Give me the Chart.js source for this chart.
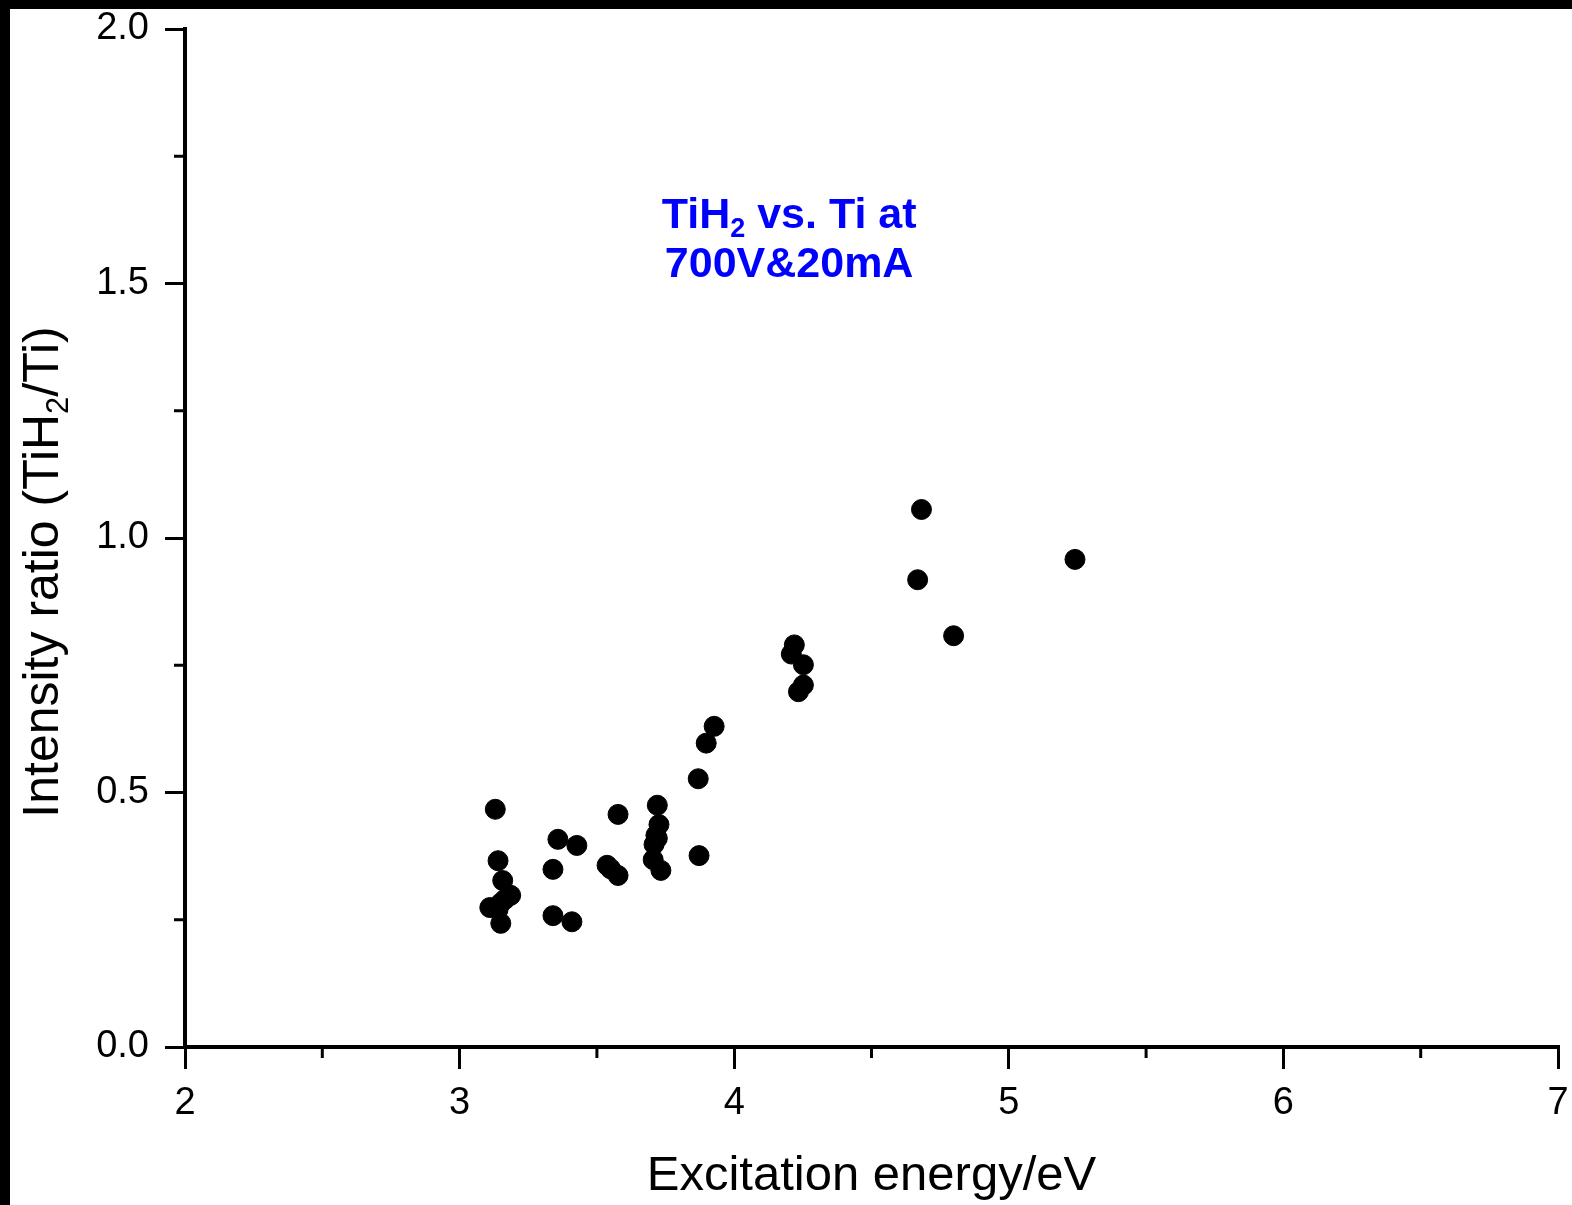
<!DOCTYPE html>
<html>
<head>
<meta charset="utf-8">
<script src="https://cdn.jsdelivr.net/npm/chart.js@4.4.0/dist/chart.umd.min.js"></script>
<style>
html, body { margin: 0; padding: 0; background: #000; }
#wrap { position: absolute; left: 10px; top: 9px; width: 1562px; height: 1196px; background: #fff; }
</style>
</head>
<body>
<div id="wrap"><canvas id="chart" width="1562" height="1196"></canvas></div>
<script>
// excitation energy (eV) and intensity ratio TiH2/Ti
const energy = [
  3.13, 3.14, 3.157, 3.186, 3.165, 3.11, 3.14, 3.15, 3.15,
  3.358, 3.427, 3.34, 3.34, 3.409,
  3.577, 3.537, 3.577, 3.55,
  3.72, 3.726, 3.715, 3.708, 3.705, 3.733, 3.72,
  3.872, 3.869, 3.898, 3.927,
  4.219, 4.208, 4.252, 4.234, 4.252,
  4.682, 4.668, 4.799, 5.241
];
const ratio = [
  0.467, 0.366, 0.327, 0.298, 0.29, 0.274, 0.27, 0.283, 0.243,
  0.408, 0.396, 0.349, 0.258, 0.246,
  0.457, 0.357, 0.337, 0.35,
  0.475, 0.437, 0.416, 0.398, 0.368, 0.347, 0.41,
  0.376, 0.527, 0.597, 0.63,
  0.79, 0.772, 0.751, 0.698, 0.711,
  1.056, 0.918, 0.808, 0.958
];
const xMinorTicks = [2.5, 3.5, 4.5, 5.5, 6.5];
const yMinorTicks = [0.25, 0.75, 1.25, 1.75];

const FONT = '"Liberation Sans", Arial, Helvetica, sans-serif';

// minor ticks + axis titles + blue note
const extras = {
  id: 'extras',
  afterDraw(chart) {
    const ctx = chart.ctx;
    const xs = chart.scales.x, ys = chart.scales.y;
    const area = chart.chartArea;
    ctx.save();
    ctx.strokeStyle = '#000';
    ctx.lineWidth = 3;
    xMinorTicks.forEach(v => {
      const px = xs.getPixelForValue(v);
      ctx.beginPath(); ctx.moveTo(px, area.bottom); ctx.lineTo(px, area.bottom + 11); ctx.stroke();
    });
    yMinorTicks.forEach(v => {
      const py = ys.getPixelForValue(v);
      ctx.beginPath(); ctx.moveTo(area.left, py); ctx.lineTo(area.left - 11, py); ctx.stroke();
    });

    ctx.fillStyle = '#000';
    ctx.textBaseline = 'alphabetic';
    // x title
    ctx.font = '49px ' + FONT;
    ctx.textAlign = 'center';
    ctx.fillText('Excitation energy/eV', (area.left + area.right) / 2, 1181);

    // y title with subscript, rotated
    ctx.translate(48, 563);
    ctx.rotate(-Math.PI / 2);
    const big = '50px ' + FONT, small = '31px ' + FONT;
    const parts = [['Intensity ratio (TiH', big, 0], ['2', small, 10], ['/Ti)', big, 0]];
    let total = 0;
    parts.forEach(p => { ctx.font = p[1]; total += ctx.measureText(p[0]).width; });
    let cx = -total / 2;
    ctx.textAlign = 'left';
    parts.forEach(p => {
      ctx.font = p[1];
      ctx.fillText(p[0], cx, p[2]);
      cx += ctx.measureText(p[0]).width;
    });
    ctx.restore();

    // annotation
    ctx.save();
    ctx.fillStyle = '#0000ff';
    const nx = xs.getPixelForValue(4.2);
    const b1 = ys.getPixelForValue(1.61), b2 = ys.getPixelForValue(1.513);
    const nb = 'bold 43px ' + FONT, ns = 'bold 27px ' + FONT;
    const line1 = [['TiH', nb, 0], ['2', ns, 9], [' vs. Ti at', nb, 0]];
    let w = 0;
    line1.forEach(p => { ctx.font = p[1]; w += ctx.measureText(p[0]).width; });
    let lx = nx - w / 2;
    ctx.textAlign = 'left';
    line1.forEach(p => {
      ctx.font = p[1];
      ctx.fillText(p[0], lx, b1 + p[2]);
      lx += ctx.measureText(p[0]).width;
    });
    ctx.font = nb;
    ctx.textAlign = 'center';
    ctx.fillText('700V&20mA', nx, b2);
    ctx.restore();
  }
};

const points = energy.map((e, i) => ({ x: e, y: ratio[i] }));

new Chart(document.getElementById('chart'), {
  type: 'scatter',
  data: {
    datasets: [{
      data: points,
      backgroundColor: '#000',
      borderColor: '#000',
      pointRadius: 10,
      pointHoverRadius: 10
    }]
  },
  options: {
    responsive: false,
    animation: false,
    layout: { padding: { top: 20, right: 14, left: 0, bottom: 0 } },
    plugins: { legend: { display: false }, tooltip: { enabled: false } },
    scales: {
      x: {
        type: 'linear', min: 2, max: 7,
        ticks: { stepSize: 1, color: '#000', font: { size: 38, family: FONT }, padding: 12 },
        grid: { display: true, drawOnChartArea: false, drawTicks: true, tickLength: 22, color: '#000', lineWidth: 3 },
        border: { display: true, color: '#000', width: 4 },
        afterFit(s) { s.height = 158; s.paddingLeft = 0; s.paddingRight = 0; }
      },
      y: {
        type: 'linear', min: 0, max: 2,
        ticks: { stepSize: 0.5, color: '#000', font: { size: 38, family: FONT }, padding: 16,
                 callback: v => v.toFixed(1) },
        grid: { display: true, drawOnChartArea: false, drawTicks: true, tickLength: 20, color: '#000', lineWidth: 3 },
        border: { display: true, color: '#000', width: 4 },
        afterFit(s) { s.width = 175; s.paddingTop = 0; s.paddingBottom = 0; }
      }
    }
  },
  plugins: [extras]
});
</script>
</body>
</html>
